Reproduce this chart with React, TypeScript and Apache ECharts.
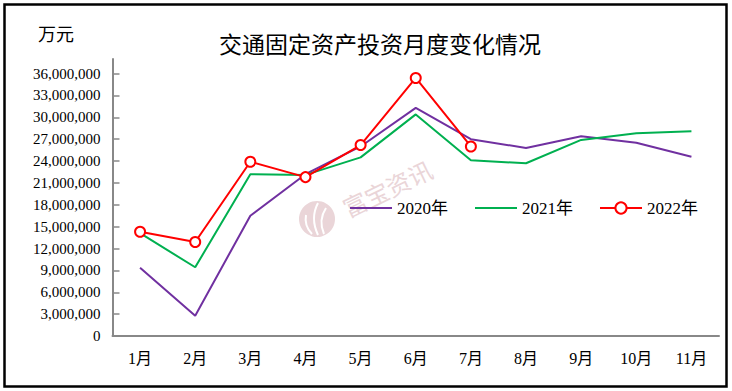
import React, { useEffect, useRef } from "react";
import * as echarts from "echarts";

const months = ["1月", "2月", "3月", "4月", "5月", "6月", "7月", "8月", "9月", "10月", "11月"];
const s2020 = [9370000, 2790000, 16500000, 22200000, 26000000, 31300000, 27000000, 25800000, 27400000, 26500000, 24600000];
const s2021 = [14100000, 9430000, 22200000, 22100000, 24500000, 30400000, 24100000, 23700000, 26900000, 27800000, 28100000];
const s2022 = [14300000, 12900000, 23900000, 21800000, 26200000, 35400000, 26000000];
const yTicks = [0, 3000000, 6000000, 9000000, 12000000, 15000000, 18000000, 21000000, 24000000, 27000000, 30000000, 33000000, 36000000];

const serif = "'Liberation Serif', 'Noto Sans CJK SC', serif";
const wm = "#ead5d8";

export default function App() {
  const ref = useRef<HTMLDivElement>(null);
  useEffect(() => {
    if (!ref.current) return;
    const chart = echarts.init(ref.current, undefined, { renderer: "svg" });
    chart.setOption({
      animation: false,
      backgroundColor: "#ffffff",
      grid: { left: 112.5, right: 13, top: 59, bottom: 55 },
      legend: {
        data: [
          { name: "2020年", itemStyle: { opacity: 0 } },
          { name: "2021年", itemStyle: { opacity: 0 } },
          { name: "2022年" },
        ],
        left: 344,
        top: 194.5,
        itemWidth: 42,
        itemHeight: 14,
        itemGap: 26,
        textStyle: { fontSize: 17, fontFamily: serif, color: "#000" },
      },
      xAxis: {
        type: "category",
        data: months,
        boundaryGap: true,
        axisLine: { lineStyle: { color: "#888888", width: 2 } },
        axisTick: { inside: true, length: 6, lineStyle: { color: "#888888", width: 1.5 } },
        axisLabel: { fontSize: 16, fontFamily: serif, color: "#000", margin: 14 },
        splitLine: { show: false },
      },
      yAxis: {
        type: "value",
        min: 0,
        max: 38000000,
        interval: 3000000,
        axisLine: { show: true, lineStyle: { color: "#888888", width: 2 } },
        axisTick: { show: true, inside: true, length: 7, customValues: yTicks, lineStyle: { color: "#888888", width: 1.5 } },
        axisLabel: {
          customValues: yTicks,
          fontSize: 15,
          fontFamily: serif,
          color: "#000",
          margin: 12,
          formatter: (v: number) => v.toLocaleString("en-US"),
        },
        splitLine: { show: false },
      },
      graphic: [
        {
          type: "rect",
          shape: { x: 4.5, y: 4.5, width: 722, height: 382 },
          style: { fill: "none", stroke: "#000", lineWidth: 2.5 },
          silent: true,
        },
        {
          type: "text",
          x: 38,
          y: 33,
          style: { text: "万元", fontSize: 18, fontFamily: "'Noto Sans CJK SC', sans-serif", fill: "#000", textAlign: "left", textVerticalAlign: "middle" },
        },
        {
          type: "text",
          x: 380,
          y: 43,
          style: { text: "交通固定资产投资月度变化情况", fontSize: 23, fontFamily: "'Noto Sans CJK SC', sans-serif", fill: "#000", textAlign: "center", textVerticalAlign: "middle" },
        },
        {
          type: "circle",
          z: 0,
          shape: { cx: 317, cy: 219, r: 18 },
          style: { fill: wm },
          silent: true,
        },
        {
          type: "bezierCurve",
          z: 0,
          shape: { x1: 312, y1: 234, x2: 306, y2: 215, cpx1: 304, cpy1: 226 },
          style: { stroke: "#fff", lineWidth: 2, fill: "none" },
          silent: true,
        },
        {
          type: "bezierCurve",
          z: 0,
          shape: { x1: 318, y1: 235, x2: 318, y2: 203, cpx1: 310, cpy1: 218 },
          style: { stroke: "#fff", lineWidth: 2, fill: "none" },
          silent: true,
        },
        {
          type: "bezierCurve",
          z: 0,
          shape: { x1: 324, y1: 234, x2: 326, y2: 208, cpx1: 318, cpy1: 220 },
          style: { stroke: "#fff", lineWidth: 2, fill: "none" },
          silent: true,
        },
        {
          type: "text",
          z: 0,
          x: 387,
          y: 188,
          rotation: 0.45,
          style: { text: "富宝资讯", fontSize: 24, fontFamily: "'Noto Sans CJK SC', sans-serif", fill: wm, textAlign: "center", textVerticalAlign: "middle" },
          silent: true,
        },
      ],
      series: [
        {
          name: "2020年",
          type: "line",
          data: s2020,
          symbol: "none",
          z: 3,
          lineStyle: { color: "#7030A0", width: 2 },
          itemStyle: { color: "#7030A0" },
        },
        {
          name: "2021年",
          type: "line",
          data: s2021,
          symbol: "none",
          z: 3,
          lineStyle: { color: "#00B050", width: 2 },
          itemStyle: { color: "#00B050" },
        },
        {
          name: "2022年",
          type: "line",
          data: s2022,
          symbol: "emptyCircle",
          symbolSize: 10,
          z: 4,
          lineStyle: { color: "#FF0000", width: 2 },
          itemStyle: { color: "#FF0000", borderColor: "#FF0000", borderWidth: 2 },
        },
      ],
    });
    return () => chart.dispose();
  }, []);
  return (
    <div
      ref={ref}
      style={{ position: "fixed", left: 0, top: 0, width: 732, height: 391, background: "#fff" }}
    />
  );
}
